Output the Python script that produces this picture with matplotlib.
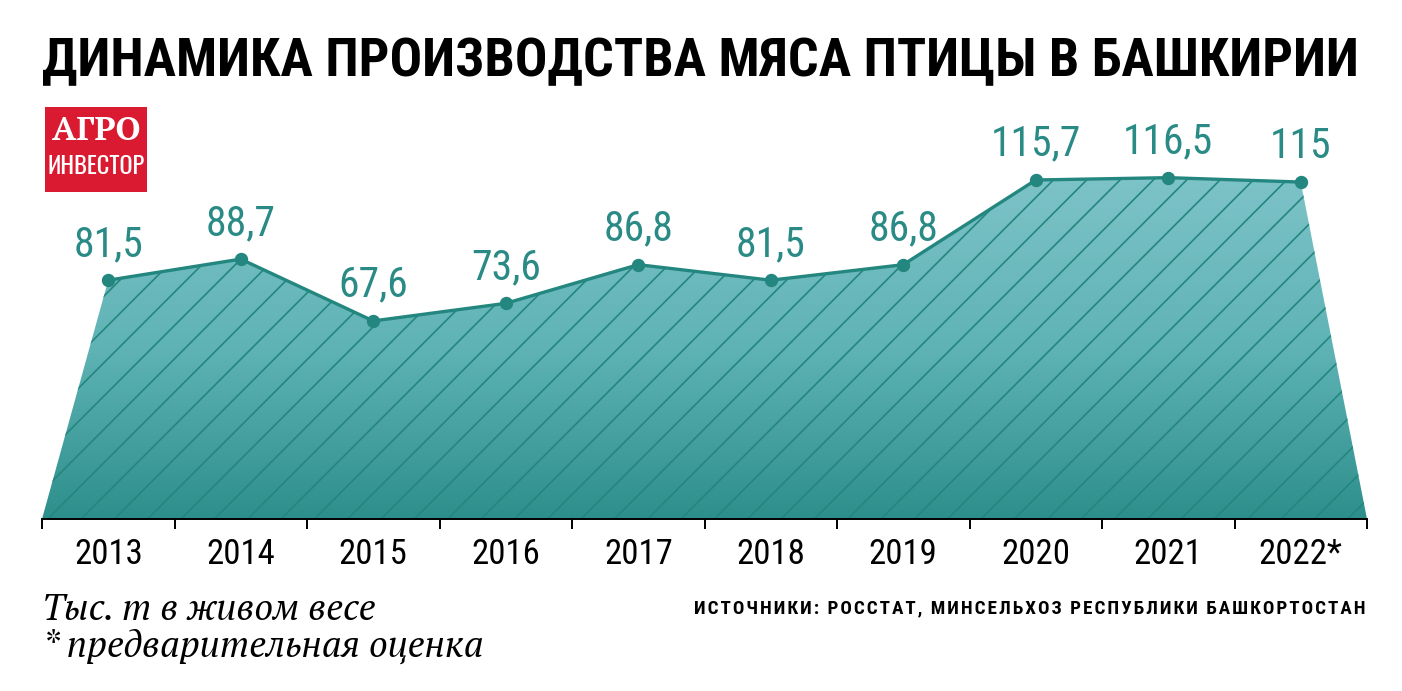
import numpy as np
import matplotlib
matplotlib.use("Agg")
import matplotlib.pyplot as plt
from matplotlib.colors import LinearSegmentedColormap
from matplotlib.patches import Polygon, Rectangle

years = ["2013", "2014", "2015", "2016", "2017", "2018", "2019", "2020", "2021", "2022*"]
values = [81.5, 88.7, 67.6, 73.6, 86.8, 81.5, 86.8, 115.7, 116.5, 115.0]
labels = ["81,5", "88,7", "67,6", "73,6", "86,8", "81,5", "86,8", "115,7", "116,5", "115"]

teal = "#24877f"
narrow = ["Roboto Condensed", "Fira Sans Condensed", "DejaVu Sans"]
xnarrow = ["Oswald", "Fira Sans Extra Condensed", "DejaVu Sans"]
serif = ["PT Serif", "Liberation Serif", "DejaVu Serif"]

plt.rcParams["hatch.linewidth"] = 0.6

fig = plt.figure(figsize=(7.01, 3.455), dpi=200)
# axes spans px 42..1367 horizontally, baseline at y=519
ax = fig.add_axes([42 / 1402, 1 - 519 / 691, 1325 / 1402, 419 / 691])
x = np.arange(len(values))
ymax = 419 / 2.93
ax.set_xlim(-0.5, len(values) - 0.5)
ax.set_ylim(0, ymax)

# area polygon: down to the baseline at the outer edges
px = np.concatenate([[-0.5], x, [len(values) - 0.5]])
py = np.concatenate([[0], values, [0]])
poly = Polygon(np.column_stack([px, py]), closed=True, facecolor="none", edgecolor="none")
ax.add_patch(poly)

cmap = LinearSegmentedColormap.from_list("g", ["#2d8f8b", "#5fb3b5", "#7dc3c8"])
grad = np.linspace(0, 1, 256).reshape(-1, 1)
im = ax.imshow(grad, cmap=cmap, origin="lower", aspect="auto",
               extent=[-0.5, len(values) - 0.5, 0, max(values)], zorder=1)
im.set_clip_path(poly)

ax.fill(px, py, facecolor="none", edgecolor="#24867f", lw=0, hatch="//", zorder=2)

ax.plot(x, values, color=teal, lw=1.2, marker="o", ms=3.8, zorder=3)
for xi, v, lab in zip(x, values, labels):
    ax.annotate(lab, (xi, v), xytext=(0, 5.5), textcoords="offset points",
                ha="center", va="bottom", color="#2a8a85", fontsize=15,
                family=narrow)

for s in ["top", "right", "left"]:
    ax.spines[s].set_visible(False)
ax.spines["bottom"].set_linewidth(0.7)
ax.set_yticks([])
ax.set_xticks(x)
ax.set_xticklabels(years, family=narrow, fontsize=12.5)
ax.tick_params(axis="x", which="major", length=0, pad=7)
ax.set_xticks(np.arange(-0.5, len(values)), minor=True)
ax.tick_params(axis="x", which="minor", length=3.6, width=0.7, direction="out")

fig.text(42 / 1402, 1 - 62 / 691, "ДИНАМИКА ПРОИЗВОДСТВА МЯСА ПТИЦЫ В БАШКИРИИ",
         ha="left", va="center", fontsize=19.5, fontweight="bold", family=narrow)

# logo
fig.patches.append(Rectangle((45 / 1402, 1 - 192 / 691), 102 / 1402, 85 / 691,
                             transform=fig.transFigure, facecolor="#d91a30",
                             edgecolor="none"))
fig.text(96 / 1402, 1 - 131 / 691, "АГРО", ha="center", va="center", color="white",
         fontsize=12, fontweight="bold", family=serif)
fig.text(96 / 1402, 1 - 167 / 691, "ИНВЕСТОР", ha="center", va="center", color="white",
         fontsize=8.8, family=xnarrow)

fig.text(42 / 1402, 1 - 609 / 691, "Тыс. т в живом весе", ha="left", va="center",
         fontsize=13.3, style="italic", family=serif)
fig.text(42 / 1402, 1 - 646 / 691, "* предварительная оценка", ha="left", va="center",
         fontsize=13.3, style="italic", family=serif)
src = "ИСТОЧНИКИ: РОССТАТ, МИНСЕЛЬХОЗ РЕСПУБЛИКИ БАШКОРТОСТАН"
fig.text(1365 / 1402, 1 - 608 / 691, "\u200a".join(src),
         ha="right", va="center", fontsize=6.9, fontweight="bold", family=narrow)

fig.savefig("out.png", dpi=200, facecolor="white")
